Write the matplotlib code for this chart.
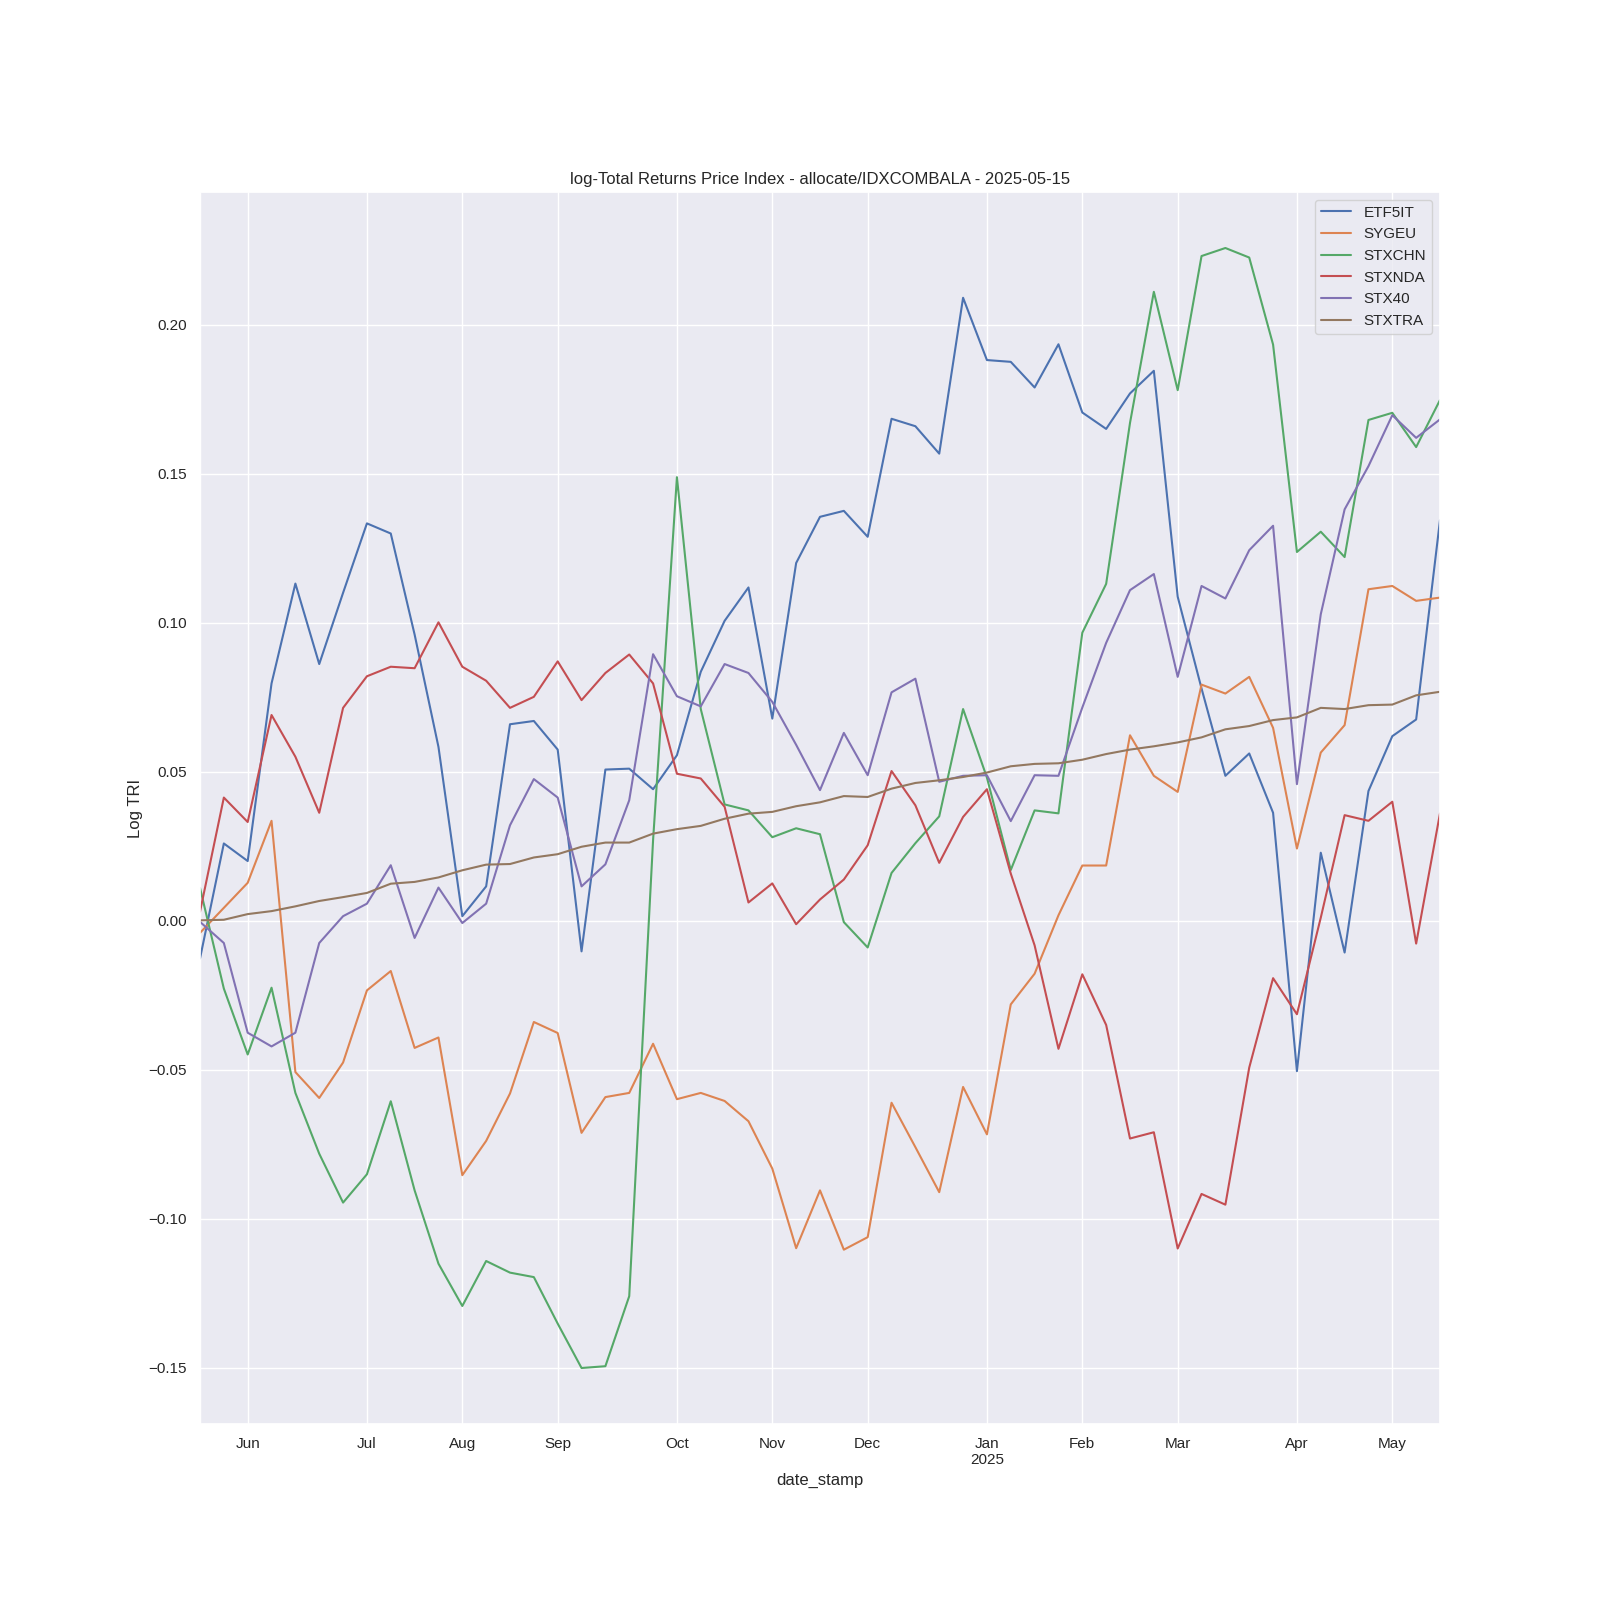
import matplotlib
matplotlib.use("Agg")
import matplotlib.pyplot as plt
import pandas as pd
import seaborn as sns

# weekly dates (week ending Sunday)
dates = pd.date_range("2024-05-19", periods=53, freq="W-SUN", name="date_stamp")

etf5it = [-0.0127, 0.0259, 0.0200, 0.0796, 0.1131, 0.0861, 0.1100, 0.1333, 0.1299, 0.0960,
          0.0583, 0.0015, 0.0115, 0.0659, 0.0670, 0.0574, -0.0103, 0.0507, 0.0510, 0.0441,
          0.0555, 0.0835, 0.1006, 0.1118, 0.0678, 0.1200, 0.1355, 0.1375, 0.1288, 0.1684,
          0.1659, 0.1567, 0.2090, 0.1881, 0.1875, 0.1789, 0.1934, 0.1705, 0.1650, 0.1769,
          0.1845, 0.1087, 0.0779, 0.0486, 0.0561, 0.0362, -0.0505, 0.0228, -0.0107, 0.0435,
          0.0619, 0.0675, 0.1344]
sygeu = [-0.0041, 0.0043, 0.0127, 0.0335, -0.0508, -0.0595, -0.0476, -0.0234, -0.0169, -0.0427,
         -0.0392, -0.0854, -0.0739, -0.0580, -0.0340, -0.0377, -0.0712, -0.0592, -0.0578, -0.0413,
         -0.0599, -0.0578, -0.0605, -0.0673, -0.0832, -0.1099, -0.0905, -0.1104, -0.1062, -0.0611,
         -0.0760, -0.0911, -0.0558, -0.0717, -0.0281, -0.0178, 0.0018, 0.0185, 0.0185, 0.0622,
         0.0486, 0.0432, 0.0792, 0.0762, 0.0818, 0.0647, 0.0242, 0.0564, 0.0656, 0.1112,
         0.1123, 0.1073, 0.1084]
stxchn = [0.0110, -0.0228, -0.0449, -0.0225, -0.0578, -0.0782, -0.0946, -0.0851, -0.0606, -0.0905,
          -0.1151, -0.1293, -0.1142, -0.1181, -0.1196, -0.1352, -0.1501, -0.1495, -0.1260, 0.0270,
          0.1488, 0.0710, 0.0390, 0.0370, 0.0280, 0.0310, 0.0290, -0.0005, -0.0090, 0.0160,
          0.0260, 0.0350, 0.0710, 0.0480, 0.0170, 0.0370, 0.0360, 0.0966, 0.1130, 0.1670,
          0.2110, 0.1780, 0.2230, 0.2257, 0.2225, 0.1933, 0.1237, 0.1305, 0.1220, 0.1680,
          0.1704, 0.1589, 0.1747]
stxnda = [0.0030, 0.0413, 0.0331, 0.0690, 0.0550, 0.0362, 0.0714, 0.0820, 0.0852, 0.0847,
          0.1001, 0.0852, 0.0805, 0.0714, 0.0751, 0.0870, 0.0740, 0.0831, 0.0893, 0.0796,
          0.0493, 0.0477, 0.0382, 0.0061, 0.0125, -0.0012, 0.0071, 0.0138, 0.0253, 0.0502,
          0.0387, 0.0194, 0.0348, 0.0441, 0.0158, -0.0083, -0.0430, -0.0180, -0.0350, -0.0731,
          -0.0710, -0.1100, -0.0917, -0.0953, -0.0493, -0.0193, -0.0314, 0.0010, 0.0354, 0.0335,
          0.0399, -0.0077, 0.0360]
stx40 = [-0.0004, -0.0075, -0.0376, -0.0422, -0.0376, -0.0075, 0.0015, 0.0057, 0.0186, -0.0058,
         0.0111, -0.0008, 0.0057, 0.0320, 0.0475, 0.0413, 0.0115, 0.0189, 0.0404, 0.0894,
         0.0753, 0.0719, 0.0861, 0.0831, 0.0734, 0.0590, 0.0438, 0.0630, 0.0488, 0.0766,
         0.0812, 0.0466, 0.0486, 0.0488, 0.0334, 0.0488, 0.0486, 0.0715, 0.0932, 0.1109,
         0.1163, 0.0818, 0.1123, 0.1081, 0.1243, 0.1325, 0.0458, 0.1028, 0.1380, 0.1525,
         0.1696, 0.1620, 0.1682]
stxtra = [0.0001, 0.0003, 0.0022, 0.0032, 0.0048, 0.0066, 0.0079, 0.0093, 0.0124, 0.0130,
          0.0145, 0.0169, 0.0188, 0.0190, 0.0212, 0.0223, 0.0248, 0.0262, 0.0262, 0.0292,
          0.0307, 0.0318, 0.0342, 0.0359, 0.0365, 0.0384, 0.0397, 0.0418, 0.0415, 0.0443,
          0.0462, 0.0471, 0.0482, 0.0497, 0.0518, 0.0526, 0.0528, 0.0540, 0.0559, 0.0574,
          0.0585, 0.0598, 0.0615, 0.0642, 0.0653, 0.0673, 0.0682, 0.0714, 0.0710, 0.0723,
          0.0725, 0.0756, 0.0768]

df = pd.DataFrame({
    "ETF5IT": etf5it,
    "SYGEU": sygeu,
    "STXCHN": stxchn,
    "STXNDA": stxnda,
    "STX40": stx40,
    "STXTRA": stxtra,
}, index=dates)

sns.set_theme()
plt.rcParams['font.family'] = ['Liberation Sans', 'DejaVu Sans']

fig, ax = plt.subplots(figsize=(16, 16), dpi=100)
df.plot(ax=ax)
ax.set_title("log-Total Returns Price Index - allocate/IDXCOMBALA - 2025-05-15")
ax.set_ylabel("Log TRI")
ax.legend(loc="upper right")

fig.savefig("out.png", dpi=100)
